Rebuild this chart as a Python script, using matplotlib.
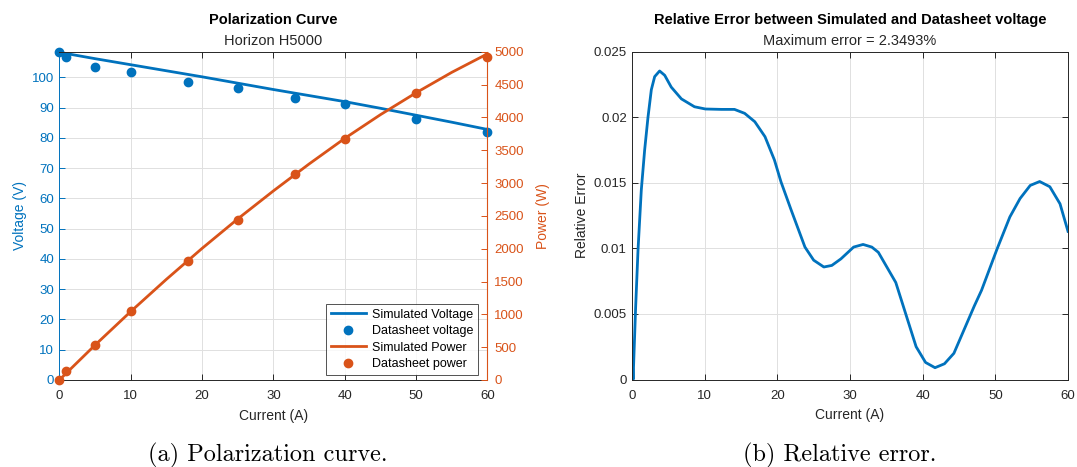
import matplotlib
matplotlib.use("Agg")
from matplotlib import pyplot as plt

# datasheet points
ds_current = [0, 1, 5, 10, 18, 25, 33, 40, 50, 60]
ds_voltage = [108.5, 106.8, 103.6, 101.8, 98.6, 96.4, 93.1, 91.1, 86.3, 81.9]
ds_power = [0, 142, 534, 1052, 1809, 2439, 3133, 3664, 4368, 4918]

# simulated curves
sim_current = [0, 5, 10, 15, 20, 25, 30, 35, 40, 45, 50, 55, 60]
sim_voltage = [108.3, 106.2, 104.2, 102.2, 100.2, 98.1, 96.0, 94.0, 92.0,
               89.8, 87.5, 85.2, 82.8]
sim_power = [0, 531, 1042, 1533, 2004, 2453, 2880, 3290, 3680, 4041, 4375,
             4686, 4968]

# relative error
err_current = [0, 0.15, 0.5, 0.83, 1.28, 1.74, 2.2, 2.66, 3.12, 3.8, 4.5,
               5.4, 6.8, 8.6, 10.1, 12.3, 14.1, 15.5, 16.9, 18.3, 19.6, 20.5,
               21.9, 23.8, 25, 26.4, 27.5, 28.75, 30.5, 31.8, 33.0, 33.9, 36.3,
               39.1, 40.4, 41.7, 43.0, 44.3, 47.1, 48.1, 50.2, 52.0, 53.4,
               54.8, 56.1, 57.5, 58.9, 60]
err_value = [0.0021, 0.0, 0.0055, 0.0099, 0.01445, 0.0175, 0.0200, 0.0221,
             0.0231, 0.02353, 0.0232, 0.0223, 0.0214, 0.0208, 0.02063, 0.0206,
             0.0206, 0.0203, 0.01966, 0.01852, 0.01674, 0.01508, 0.01293,
             0.0101, 0.0091, 0.00858, 0.0087, 0.0092, 0.0101, 0.0103, 0.0101,
             0.0097, 0.0074, 0.0025, 0.0013, 0.0009, 0.0012, 0.0020, 0.0056,
             0.0068, 0.0099, 0.0124, 0.0138, 0.0148, 0.0151, 0.0147, 0.0134,
             0.0113]

blue = '#0072BD'
orange = '#D95319'
dark = '#262626'

plt.rcParams['font.family'] = ['Liberation Sans', 'DejaVu Sans']
plt.rcParams['font.size'] = 9.5

fig = plt.figure(figsize=(10.77, 4.67), dpi=100)
W, H = 1077, 467


def style(ax):
    ax.grid(True, color='#e0e0e0', linewidth=0.7)
    ax.set_axisbelow(True)
    for s in ax.spines.values():
        s.set_color(dark)
        s.set_linewidth(0.7)
    ax.tick_params(direction='in', length=4, width=0.7, colors=dark,
                   top=True, right=True, labelsize=9.5)
    ax.tick_params(axis='x', pad=7.5)
    ax.tick_params(axis='y', pad=3.7)


# ---- (a) polarization curve
ax1 = fig.add_axes([59.3 / W, 1 - 380 / H, (487.5 - 59.3) / W, (380 - 51.7) / H])
style(ax1)
ax1.tick_params(right=False)
ax1.set_xlim(0, 60)
ax1.set_ylim(0, 108.5)
ax1.set_yticks(range(0, 101, 10))
ax1.set_xticks(range(0, 61, 10))
ax1.tick_params(axis='y', colors=blue)
ax1.spines['left'].set_color(blue)
l1, = ax1.plot(sim_current, sim_voltage, color=blue, lw=2, label='Simulated Voltage')
p1, = ax1.plot(ds_current, ds_voltage, 'o', color=blue, ms=6, label='Datasheet voltage')
ax1.set_ylabel('Voltage (V)', color=blue, fontsize=10)
ax1.set_xlabel('Current (A)', color=dark, fontsize=10)
ax1.yaxis.set_label_coords(-0.075, 0.5)
ax1.xaxis.set_label_coords(0.5, -0.087)

ax2 = ax1.twinx()
ax2.set_ylim(0, 5000)
ax2.set_yticks(range(0, 5001, 500))
ax2.tick_params(direction='in', length=4, width=0.7, colors=orange,
                labelsize=9.5, pad=5)
ax2.spines['right'].set_color(orange)
ax2.spines['left'].set_visible(False)
ax2.spines['top'].set_visible(False)
ax2.spines['bottom'].set_visible(False)
l2, = ax2.plot(sim_current, sim_power, color=orange, lw=2, label='Simulated Power')
p2, = ax2.plot(ds_current, ds_power, 'o', color=orange, ms=6, label='Datasheet power')
ax2.set_ylabel('Power (W)', color=orange, fontsize=10)
ax2.yaxis.set_label_coords(1.113, 0.5)
for a in (ax1, ax2):
    for ln in a.get_lines():
        ln.set_clip_on(False)

leg = ax2.legend(handles=[l1, p1, l2, p2], loc='lower right', fontsize=9,
                 frameon=True, fancybox=False, edgecolor=dark,
                 bbox_to_anchor=(1 - 9 / 428, 5 / 328), borderaxespad=0,
                 handlelength=2.8, borderpad=0.4, labelspacing=0.35,
                 handletextpad=0.5)
leg.get_frame().set_linewidth(0.7)

ax1.text(0.5, 1 + 31.7 / 328.3, 'Polarization Curve', transform=ax1.transAxes,
         ha='center', va='center', fontsize=10.5, fontweight='bold', color='black')
ax1.text(0.5, 1 + 11 / 328.3, 'Horizon H5000', transform=ax1.transAxes,
         ha='center', va='center', fontsize=10.5, color=dark)

# ---- (b) relative error
ax3 = fig.add_axes([632 / W, 1 - 379.5 / H, (1068 - 632) / W, (379.5 - 51.7) / H])
style(ax3)
ax3.set_xlim(0, 60)
ax3.set_ylim(0, 0.025)
ax3.set_xticks(range(0, 61, 10))
ax3.set_yticks([0, 0.005, 0.01, 0.015, 0.02, 0.025])
ax3.set_yticklabels(['0', '0.005', '0.01', '0.015', '0.02', '0.025'])
ax3.plot(err_current, err_value, color=blue, lw=2)
ax3.set_xlabel('Current (A)', color=dark, fontsize=10)
ax3.set_ylabel('Relative Error', color=dark, fontsize=10)
ax3.yaxis.set_label_coords(-0.098, 0.5)
ax3.xaxis.set_label_coords(0.5, -0.087)
ax3.text(0.5, 1 + 31.7 / 327.8, 'Relative Error between Simulated and Datasheet voltage',
         transform=ax3.transAxes, ha='center', va='center', fontsize=10.5,
         fontweight='bold', color='black')
ax3.text(0.5, 1 + 11 / 327.8, 'Maximum error = 2.3493%', transform=ax3.transAxes,
         ha='center', va='center', fontsize=10.5, color=dark)

# captions
fig.text(267.5 / W, 1 - 455 / H, '(a) Polarization curve.', family='cmr10',
         fontsize=17.5, ha='center', va='center')
fig.text(840 / W, 1 - 455 / H, '(b) Relative error.', family='cmr10',
         fontsize=17.5, ha='center', va='center')

fig.savefig('out.png', dpi=100)
